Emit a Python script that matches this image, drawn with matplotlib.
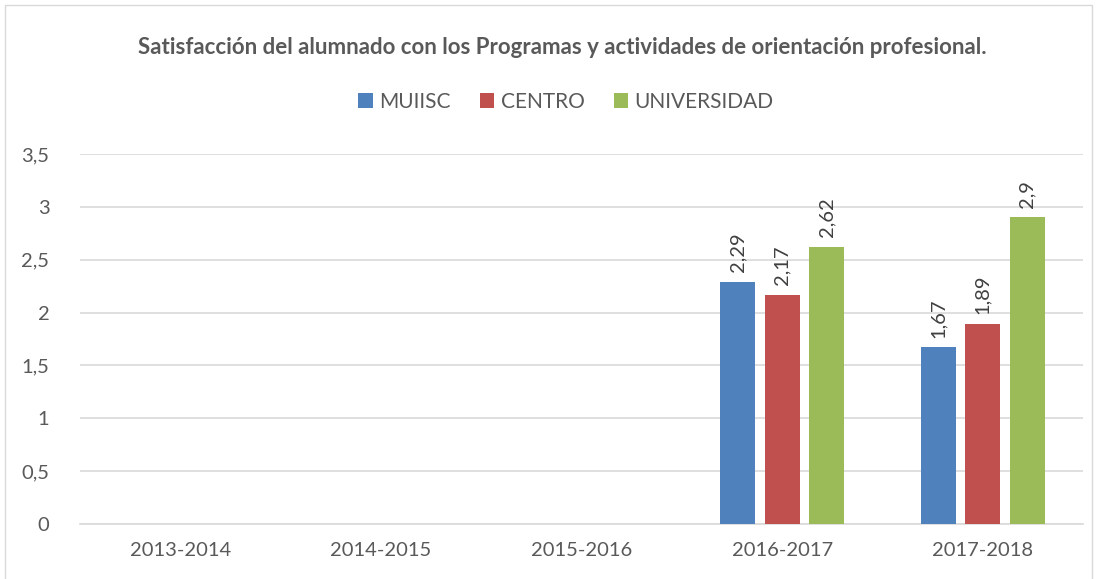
import numpy as np
import matplotlib
matplotlib.use("Agg")
import matplotlib.pyplot as plt
from matplotlib.patches import Rectangle

plt.rcParams['font.family'] = ['Lato', 'DejaVu Sans']

# data
years = ['2013-2014', '2014-2015', '2015-2016', '2016-2017', '2017-2018']
muiisc = [np.nan, np.nan, np.nan, 2.29, 1.67]
centro = [np.nan, np.nan, np.nan, 2.17, 1.89]
universidad = [np.nan, np.nan, np.nan, 2.62, 2.9]
series_names = ['MUIISC', 'CENTRO', 'UNIVERSIDAD']
colors = ['#4F81BD', '#C0504D', '#9BBB59']

txt = '#595959'
grid = '#D9D9D9'

fig = plt.figure(figsize=(10.99, 5.79), dpi=100)
ax = fig.add_axes([80 / 1099, 55 / 579, 1003 / 1099, 370 / 579])

x = np.arange(len(years))
width = 0.175
step = 0.222
for i, (vals, name, c) in enumerate(zip([muiisc, centro, universidad], series_names, colors)):
    pos = x + (i - 1) * step
    ax.bar(pos, vals, width=width, color=c, label=name, zorder=3)
    for p, v in zip(pos, vals):
        if not np.isnan(v):
            ax.annotate(('%g' % v).replace('.', ','), (p, v), xytext=(0, 7),
                        textcoords='offset points', rotation=90, ha='center',
                        va='bottom', fontsize=14.5, color='#404040')

ax.set_xlim(-0.5, len(years) - 0.5)
ax.set_ylim(0, 3.5)
yt = np.arange(0, 3.51, 0.5)
ax.set_yticks(yt)
ax.set_yticklabels([('%g' % t).replace('.', ',') for t in yt])
ax.set_xticks(x)
ax.set_xticklabels(years)
ax.tick_params(axis='both', length=0, labelsize=14.5, labelcolor=txt)
ax.tick_params(axis='x', pad=13)
ax.tick_params(axis='y', pad=22)
ax.grid(axis='y', color=grid, linewidth=1.2, zorder=0)
for s in ['top', 'right', 'left']:
    ax.spines[s].set_visible(False)
ax.spines['bottom'].set_color(grid)
ax.spines['bottom'].set_linewidth(1.2)

fig.text(562 / 1099, 1 - 47 / 579, 'Satisfacción del alumnado con los Programas y actividades de orientación profesional.',
         ha='center', va='center', fontsize=16, fontweight='bold', color=txt)

fig.legend(loc='center', bbox_to_anchor=(566 / 1099, 1 - 102 / 579), ncol=3, frameon=False,
           fontsize=15, labelcolor=txt, handlelength=0.7, handleheight=0.7,
           handletextpad=0.3, columnspacing=1.4)

# outer frame of the chart
fig.patches.append(Rectangle((5 / 1099, -0.05), 1087 / 1099, 1 - 5 / 579 + 0.05,
                             transform=fig.transFigure, fill=False, edgecolor=grid, linewidth=1))

fig.savefig('out.png', dpi=100)
